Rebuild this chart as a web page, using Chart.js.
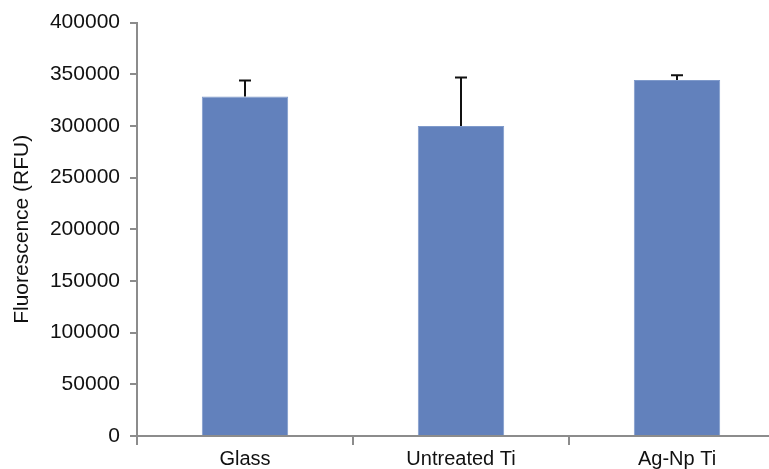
<!DOCTYPE html>
<html>
<head>
<meta charset="utf-8">
<script src="https://cdn.jsdelivr.net/npm/chart.js@4.4.1/dist/chart.umd.min.js"></script>
<style>
    html, body { margin: 0; padding: 0; background: #fff; overflow: hidden; }
    #wrap { width: 800px; height: 469px; }
</style>
</head>
<body>
<div id="wrap"><canvas id="fluorChart"></canvas></div>
<script>
const categories = ['Glass', 'Untreated Ti', 'Ag-Np Ti'];
const meanValues = [328500, 300000, 344500];
const errorTops = [344000, 347000, 349000];
const yTicks = [0, 50000, 100000, 150000, 200000, 250000, 300000, 350000, 400000];

// upward-only error bars, Excel style
const errorBars = {
    id: 'errorBars',
    afterDatasetsDraw(chart) {
        const ctx = chart.ctx;
        const meta = chart.getDatasetMeta(0);
        const y = chart.scales.y;
        ctx.save();
        ctx.strokeStyle = '#111';
        ctx.lineWidth = 2;
        meta.data.forEach((bar, i) => {
            const top = y.getPixelForValue(errorTops[i]);
            const base = y.getPixelForValue(meanValues[i]);
            ctx.beginPath();
            ctx.moveTo(bar.x, base);
            ctx.lineTo(bar.x, top);
            ctx.moveTo(bar.x - 6, top);
            ctx.lineTo(bar.x + 6, top);
            ctx.stroke();
        });
        ctx.restore();
    }
};

Chart.defaults.font.family = '"Liberation Sans", Arial, sans-serif';
Chart.defaults.color = '#111';

const ctx = document.getElementById('fluorChart').getContext('2d');
new Chart(ctx, {
    type: 'bar',
    data: {
        labels: categories,
        datasets: [{
            data: meanValues,
            backgroundColor: '#6281bc',
            borderColor: '#7f9acb',
            borderWidth: 1,
            categoryPercentage: 0.8,
            barPercentage: 0.5
        }]
    },
    options: {
        responsive: true,
        maintainAspectRatio: false,
        animation: false,
        devicePixelRatio: 1,
        layout: { padding: { top: 22, right: 15, left: 0, bottom: 0 } },
        plugins: {
            legend: { display: false },
            tooltip: { enabled: false }
        },
        scales: {
            x: {
                grid: {
                    drawOnChartArea: false,
                    drawTicks: true,
                    tickLength: 9,
                    color: '#8c8c8c',
                    lineWidth: 2
                },
                border: { color: '#8c8c8c', width: 2 },
                ticks: { font: { size: 20 }, padding: 2, maxRotation: 0 },
                afterFit(scale) { scale.height = 33; }
            },
            y: {
                min: 0,
                max: 400000,
                afterBuildTicks(scale) {
                    scale.ticks = yTicks.map(v => ({ value: v }));
                },
                grid: {
                    drawOnChartArea: false,
                    drawTicks: true,
                    tickLength: 7,
                    color: '#8c8c8c',
                    lineWidth: 2
                },
                border: { color: '#8c8c8c', width: 2 },
                ticks: {
                    font: { size: 21 },
                    padding: 10,
                    callback: v => String(v)
                },
                title: {
                    display: true,
                    text: 'Fluorescence (RFU)',
                    font: { size: 21 },
                    padding: { top: 10, bottom: 0 }
                },
                afterFit(scale) { scale.width = 137; }
            }
        }
    },
    plugins: [errorBars]
});
</script>
</body>
</html>
